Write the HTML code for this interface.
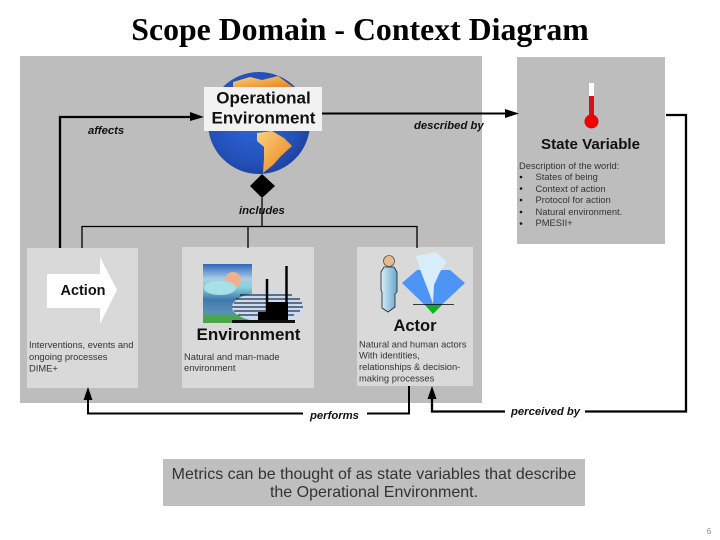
<!DOCTYPE html>
<html><head><meta charset="utf-8"><style>
html,body{margin:0;padding:0;background:#fff}
svg{display:block}
text{font-family:"Liberation Sans",sans-serif;fill:#111}
.d{font-size:9.35px;fill:#333}
.l{font-size:11.3px;font-style:italic;font-weight:bold;fill:#111}
</style></head><body>
<svg width="720" height="540" viewBox="0 0 720 540" xmlns="http://www.w3.org/2000/svg">
<defs>
<radialGradient id="g" cx="0.45" cy="0.45" r="0.6"><stop offset="0" stop-color="#2f68e0"/><stop offset="0.75" stop-color="#2350b8"/><stop offset="1" stop-color="#1d3f96"/></radialGradient>
<linearGradient id="o" x1="0" y1="0" x2="1" y2="1"><stop offset="0" stop-color="#fbd27a"/><stop offset="1" stop-color="#e8801e"/></linearGradient>
<linearGradient id="s" x1="0" y1="0" x2="0" y2="1"><stop offset="0" stop-color="#2f68b8"/><stop offset="0.25" stop-color="#a8cce8"/><stop offset="0.4" stop-color="#88d0d8"/><stop offset="0.6" stop-color="#3f78b0"/><stop offset="0.82" stop-color="#5a90b8"/><stop offset="0.9" stop-color="#48a848"/><stop offset="1" stop-color="#48a848"/></linearGradient>
<linearGradient id="p" x1="0" y1="0" x2="1" y2="0"><stop offset="0" stop-color="#d8eef8"/><stop offset="1" stop-color="#6aa8cc"/></linearGradient>
</defs>
<text x="360" y="40" text-anchor="middle" style="font-family:'Liberation Serif',serif;font-size:31.8px;font-weight:bold;fill:#000">Scope Domain - Context Diagram</text>

<rect x="20" y="56" width="462" height="347" fill="#bdbdbd"/>
<rect x="517" y="57" width="148" height="187" fill="#bdbdbd"/>
<rect x="27" y="248" width="111" height="140" fill="#d9d9d9"/>
<rect x="182" y="247" width="132" height="141" fill="#d9d9d9"/>
<rect x="357" y="247" width="116" height="139" fill="#d9d9d9"/>

<!-- globe -->
<circle cx="259" cy="123" r="51" fill="url(#g)"/>
<path d="M233 82 L250 77 L262 80 L278 76 L293 87 L233 87Z" fill="url(#o)"/>
<path d="M257 133 L272 131 L284 138 L292 146 L281 156 L273 165 L263 173 L264 158 L264 147 L257 141Z" fill="url(#o)"/>
<rect x="204" y="87" width="118" height="44" fill="#f2f2f2"/>
<text x="263.500" y="103.500" text-anchor="middle" style="font-size:17px;font-weight:bold">Operational</text>
<text x="263.500" y="123.500" text-anchor="middle" style="font-size:17px;font-weight:bold">Environment</text>

<!-- tree -->
<path d="M262 198V227 M82 248V226.500H417V248 M248 226.500V248" fill="none" stroke="#000" stroke-width="1.300"/>
<path d="M262 174L275 186 262 198 250 186Z" fill="#000"/>

<!-- connectors -->
<path d="M60 248V117H192" fill="none" stroke="#000" stroke-width="2.300"/>
<path d="M190 112L204 117 190 121Z" fill="#000"/>
<path d="M322 113.500H506" fill="none" stroke="#000" stroke-width="2"/>
<path d="M505 109L519 113.500 505 118Z" fill="#000"/>
<path d="M666 115H686V411.500H432V398" fill="none" stroke="#000" stroke-width="2.300"/>
<path d="M432 386L436.500 399H427.500Z" fill="#000"/>
<path d="M409 386V413.500H88V400" fill="none" stroke="#000" stroke-width="2"/>
<path d="M88 387L92.500 400H83.500Z" fill="#000"/>
<rect x="303" y="407" width="64" height="15" fill="#fff"/>
<rect x="505" y="403" width="80" height="15" fill="#fff"/>

<text class="l" x="88" y="134">affects</text>
<text class="l" x="414" y="129">described by</text>
<text class="l" x="239" y="214">includes</text>
<text class="l" x="310" y="419">performs</text>
<text class="l" x="511" y="415">perceived by</text>

<!-- thermometer -->
<rect x="589" y="83" width="5" height="14" fill="#fff"/>
<rect x="589" y="96" width="5" height="22" fill="#d8101a"/>
<circle cx="591.500" cy="121.500" r="7" fill="#f00000"/>
<text x="590.500" y="149" text-anchor="middle" textLength="99" lengthAdjust="spacingAndGlyphs" style="font-size:15px;font-weight:bold">State Variable</text>
<text class="d" x="519" y="169">Description of the world:</text>
<g fill="#111"><circle cx="521" cy="177" r="1.300"/><circle cx="521" cy="188.500" r="1.300"/><circle cx="521" cy="200" r="1.300"/><circle cx="521" cy="212" r="1.300"/><circle cx="521" cy="223.500" r="1.300"/></g>
<text class="d" x="535.500" y="180">States of being</text>
<text class="d" x="535.500" y="192">Context of action</text>
<text class="d" x="535.500" y="203">Protocol for action</text>
<text class="d" x="535.500" y="215">Natural environment.</text>
<text class="d" x="535.500" y="226">PMESII+</text>

<!-- action -->
<path d="M47 274H100V257L117 290 100 324V308H47Z" fill="#fff"/>
<text x="83" y="295" text-anchor="middle" textLength="45" lengthAdjust="spacingAndGlyphs" style="font-size:14.5px;font-weight:bold">Action</text>
<text class="d" x="29" y="348">Interventions, events and</text>
<text class="d" x="29" y="360">ongoing processes</text>
<text class="d" x="29" y="371.500">DIME+</text>

<!-- environment -->
<rect x="203" y="264" width="49" height="59" fill="url(#s)"/>
<circle cx="233" cy="280" r="8" fill="#f0b090"/>
<ellipse cx="220" cy="288" rx="16" ry="7" fill="#a8e0e8"/>
<ellipse cx="268" cy="307" rx="36" ry="15" fill="#c8dcf8"/>
<path d="M240 295H292 M236 299H300 M234 303H302 M232 307H303 M234 311H300 M238 315H294" stroke="#000" stroke-width="1"/>
<path d="M286.500 266V322 M267 279V322" stroke="#000" stroke-width="2.500"/>
<rect x="268" y="302" width="20" height="20" fill="#000"/>
<rect x="258" y="312" width="10" height="8" fill="#000"/>
<rect x="232" y="320" width="63" height="3" fill="#111"/>
<text x="248.500" y="340" text-anchor="middle" style="font-size:17px;font-weight:bold">Environment</text>
<text class="d" x="184" y="360">Natural and man-made</text>
<text class="d" x="184" y="371">environment</text>

<!-- actor -->
<circle cx="389" cy="261" r="5.500" fill="#e8b890" stroke="#333" stroke-width="0.600"/>
<path d="M384 267L394 267 397 272 397 292 395 294V307L388 312 382 308V292L381 290V272Z" fill="url(#p)" stroke="#222" stroke-width="0.800"/>
<path d="M402 283L417 270 450 270 465 283 433 313Z" fill="#4d94f5"/>
<path d="M416 256L436 252 447 262 440 272 434 285 433 304 428 290 421 272Z" fill="#d8ecfa"/>
<path d="M425 305H442L433 314Z" fill="#10b020"/>
<path d="M413 304.500H454" stroke="#000" stroke-width="0.800"/>
<text x="415" y="331" text-anchor="middle" style="font-size:16.500px;font-weight:bold">Actor</text>
<text class="d" x="359" y="347.500">Natural and human actors</text>
<text class="d" x="359" y="358.500">With identities,</text>
<text class="d" x="359" y="370">relationships &amp; decision-</text>
<text class="d" x="359" y="381.500">making processes</text>

<!-- metrics -->
<rect x="163" y="459" width="422" height="47" fill="#bfbfbf"/>
<text x="374" y="479" text-anchor="middle" style="font-size:16px;fill:#333">Metrics can be thought of as state variables that describe</text>
<text x="374" y="497" text-anchor="middle" style="font-size:16px;fill:#333">the Operational Environment.</text>
<text x="709" y="534" text-anchor="middle" style="font-size:8px;fill:#888">6</text>
</svg>
</body></html>
